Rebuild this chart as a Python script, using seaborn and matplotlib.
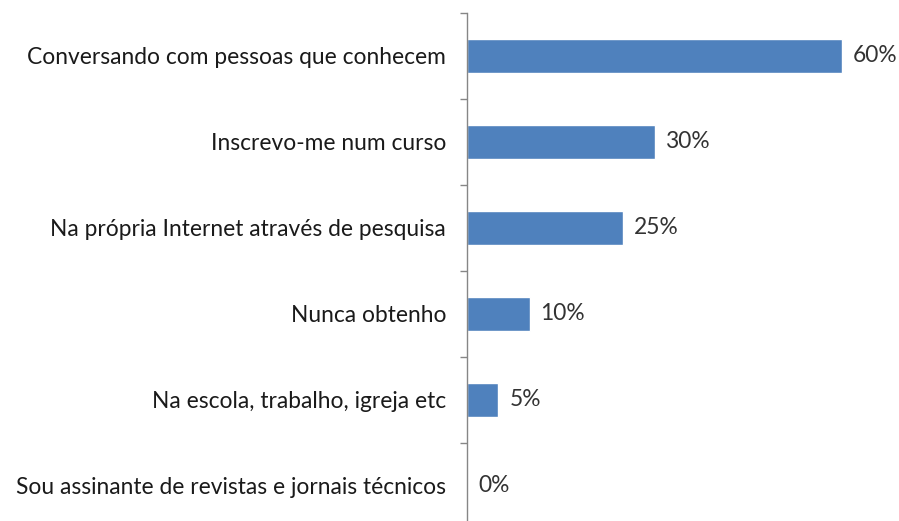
import matplotlib
matplotlib.use("Agg")
import matplotlib.pyplot as plt
import seaborn as sns
import pandas as pd
from matplotlib.ticker import FixedLocator

categories = [
    "Conversando com pessoas que conhecem",
    "Inscrevo-me num curso",
    "Na própria Internet através de pesquisa",
    "Nunca obtenho",
    "Na escola, trabalho, igreja etc",
    "Sou assinante de revistas e jornais técnicos",
]
values = [60, 30, 25, 10, 5, 0]

df = pd.DataFrame({"categoria": categories, "pct": values})

sns.set_theme(style="white")
plt.rcParams["font.family"] = ["Lato", "DejaVu Sans"]

W, H = 899, 521
fig = plt.figure(figsize=(W / 100, H / 100), dpi=100)
left_px, top_px, bottom_px = 467, 13, 529
px_per_pct = 6.25
xmax = 68
ax = fig.add_axes([left_px / W, (H - bottom_px) / H,
                   xmax * px_per_pct / W, (bottom_px - top_px) / H])

sns.barplot(data=df, x="pct", y="categoria", orient="h", color="#4F81BD",
            saturation=1, width=0.4, ax=ax)

ax.set_xlim(0, xmax)
ax.set_ylim(len(categories) - 0.5, -0.5)
ax.set_xlabel("")
ax.set_ylabel("")
ax.set_xticks([])

for s in ["top", "right", "bottom"]:
    ax.spines[s].set_visible(False)
ax.spines["left"].set_color("#868686")
ax.spines["left"].set_linewidth(1.0)

ax.yaxis.set_minor_locator(FixedLocator([i - 0.5 for i in range(len(categories) + 1)]))
ax.tick_params(axis="y", which="major", length=0, pad=15, labelsize=16.4,
               labelcolor="#1a1a1a")
ax.tick_params(axis="y", which="minor", left=True, length=5, width=1,
               color="#868686", direction="out")

for i, v in enumerate(values):
    ax.text(v + 11 / px_per_pct, i, f"{v}%", va="center", ha="left",
            fontsize=16.4, color="#333333")

fig.savefig("out.png", dpi=100)
